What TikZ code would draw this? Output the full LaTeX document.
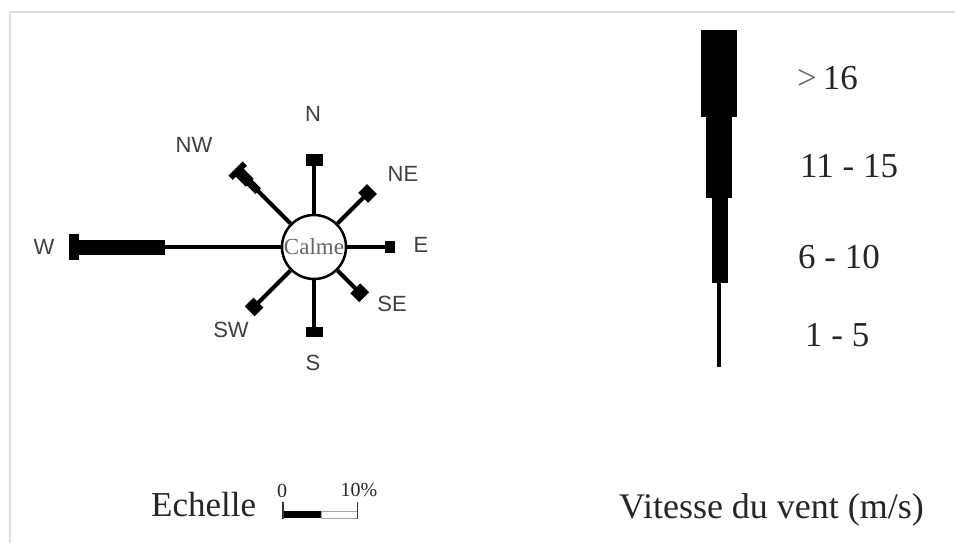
\documentclass[tikz,border=0pt]{standalone}
\usepackage{fontspec}
\setmainfont{Liberation Serif}
\newfontfamily\arialf{Liberation Sans}
\usetikzlibrary{calc}
\begin{document}
\begin{tikzpicture}[x=1pt,y=1pt,
  arm/.style={line width=4pt},
  dirlabel/.style={font=\arialf\fontsize{22}{24}\selectfont, text=black!75, inner sep=0},
  leglabel/.style={font=\fontsize{35}{40}\selectfont, text=black!85, anchor=west, inner sep=0},
  bigtext/.style={font=\fontsize{35}{40}\selectfont, text=black!85, anchor=base west, inner sep=0},
  smalltext/.style={font=\fontsize{20}{22}\selectfont, text=black!85, inner sep=0}]
\useasboundingbox (0,0) rectangle (955,-543);
\fill[white] (0,0) rectangle (955,-543);
\draw[gray!25, line width=1.5pt] (10,-543) -- (10,-12) -- (955,-12);

% compass
\coordinate (C) at (314,-247);
\node[circle, draw, line width=2.5pt, fill=white, minimum size=64pt, inner sep=0pt,
      font=\fontsize{23}{25}\selectfont, text=black!60] (calme) at (C) {Calme};
\foreach \a/\r/\e/\w in {90/82/93/17, 0/71/81/12, 270/80/90/17, 45/70/82/14, 315/59/71/14, 225/79/91/14}{
  \draw[arm] (calme.\a) -- ($(C)+(\a:\r)$);
  \draw[line width=\w pt] ($(C)+(\a:\r-0.5)$) -- ($(C)+(\a:\e)$);
}
% W arm
\draw[arm] (calme.180) -- ($(C)+(180:150)$);
\draw[line width=15pt] ($(C)+(180:149)$) -- ($(C)+(180:236)$);
\draw[line width=26pt] ($(C)+(180:235)$) -- ($(C)+(180:245)$);
% NW arm
\draw[arm] (calme.135) -- ($(C)+(135:80)$);
\draw[line width=8pt] ($(C)+(135:79)$) -- ($(C)+(135:92)$);
\draw[line width=11pt] ($(C)+(135:91)$) -- ($(C)+(135:106)$);
\draw[line width=20pt] ($(C)+(135:105)$) -- ($(C)+(135:111)$);

% direction labels
\node[dirlabel] (lN)  at (313,-114) {N};
\node[dirlabel] (lNW) at (194,-145) {NW};
\node[dirlabel] (lNE) at (403,-174) {NE};
\node[dirlabel] (lE)  at (421,-245) {E};
\node[dirlabel] (lSE) at (392,-304) {SE};
\node[dirlabel] (lSW) at (231,-330) {SW};
\node[dirlabel] (lS)  at (313,-363) {S};
\node[dirlabel] (lW)  at (44,-247) {W};

% speed legend
\fill (701,-30) rectangle (737,-117);
\fill (706,-116.5) rectangle (732,-198);
\fill (711.5,-197.5) rectangle (727.5,-283);
\fill (717,-282.5) rectangle (721,-367);
\node[leglabel] (g1) at (797,-78) {{\color{black!60}>}\,16};
\node[leglabel] (g2) at (800,-166) {11 - 15};
\node[leglabel] (g3) at (798,-257) {6 - 10};
\node[leglabel] (g4) at (805,-335) {1 - 5};

% bottom
\node[bigtext] (ech) at (151,-516) {Echelle};
\node[bigtext, font=\fontsize{36}{40}\selectfont] (vit) at (619,-518) {Vitesse du vent (m/s)};
\fill[black] (284,-511) rectangle (321,-518);
\draw[gray!70, line width=0.8pt] (321,-511) rectangle (357.5,-518);
\draw[black!80, line width=1.5pt] (283,-502) -- (283,-518.5);
\draw[black!80, line width=1.5pt] (357.5,-502) -- (357.5,-518.5);
\node[smalltext] (s0) at (282,-491) {0};
\node[smalltext] (s10) at (359,-490) {10\%};
\end{tikzpicture}
\end{document}
